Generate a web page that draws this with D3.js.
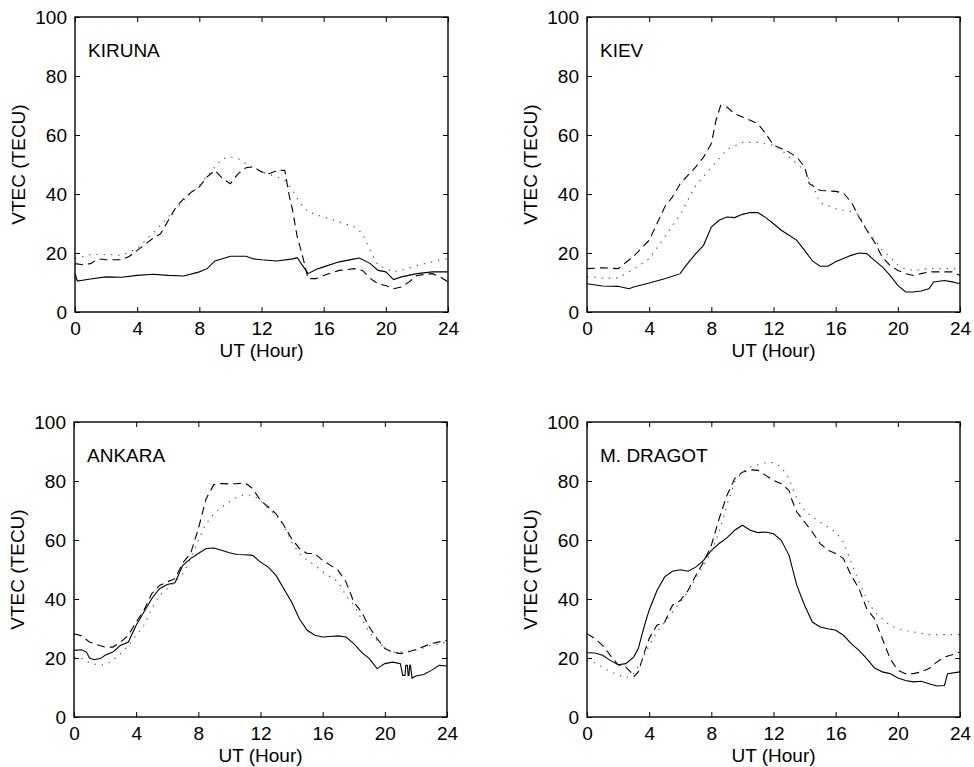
<!DOCTYPE html>
<html>
<head>
<meta charset="utf-8">
<script src="https://cdn.jsdelivr.net/npm/d3@7"></script>
<style>
  body { margin: 0; background: #fff; }
  svg { display: block; }
  text { font-family: "Liberation Sans", Arial, Helvetica, sans-serif; fill: #000; }
</style>
</head>
<body>
<div id="chart"></div>
<script>
// tick labels
var xTicks = [0, 4, 8, 12, 16, 20, 24];
var yTicks = [0, 20, 40, 60, 80, 100];
var stations = ["KIRUNA", "KIEV", "ANKARA", "M. DRAGOT"];

// [UT hour, VTEC]
var kirunaSolid = [[0,13],[0.15,10.5],[1,11.2],[2,11.9],[3,11.8],[4,12.4],[5,12.8],[6,12.4],[7,12.2],[8,13.6],[8.5,14.7],[9,17.3],[10,18.9],[11,18.9],[11.5,18],[12,17.7],[13,17.3],[14,18],[14.3,18.4],[14.7,15.3],[15,13],[15.5,14.4],[16,15.3],[17,17],[18,18],[18.3,18.3],[19,16.4],[19.5,14.1],[20,13.6],[20.5,11],[21,11.9],[22,13],[23,13.6],[24,13.6]];
var kirunaDashed = [[0,16.4],[0.5,16],[1,16.4],[1.5,18],[2,17.7],[3,17.7],[3.5,18.9],[4,20.9],[5,24.9],[5.5,26.5],[6,31],[6.5,35.6],[7,38.4],[7.5,40.7],[8,42.4],[8.5,45.8],[9,48],[9.5,45.2],[10,43.5],[10.5,46.9],[11,48.9],[11.5,49.2],[12,47.5],[12.5,46.9],[13,48],[13.5,48],[13.8,39],[14,34.5],[14.3,25.4],[14.6,19.8],[15,11.3],[15.5,11.3],[16,12.4],[17,14.1],[18,14.7],[18.5,14.1],[19,11.3],[19.5,9.6],[20,9],[20.5,7.9],[21,8.5],[21.5,10.2],[22,12.4],[23,13],[23.5,11.9],[24,10.2]];
var kirunaDotted = [[0,18.1],[1,19.5],[2,19.5],[3,19.2],[4,21.5],[5,26.6],[6,32.2],[7,37.9],[8,42.9],[9,49.2],[9.5,52],[10,52.5],[10.5,52],[11,50.3],[12,47.5],[13,45.8],[13.5,44.6],[14,41.2],[14.5,36.7],[15,33.9],[16,32.2],[17,30.5],[18,28.8],[18.5,26.6],[19,20.9],[19.5,15.8],[20,14.7],[20.5,13.6],[21,14.1],[22,15.8],[23,17],[24,18.1]];

var kievSolid = [[0,9.6],[1,8.8],[2,8.7],[2.7,7.9],[3,8.5],[4,9.8],[5,11.3],[6,13],[6.3,15.3],[7,19.8],[7.5,22.6],[8,28.8],[8.5,31.1],[9,32.2],[9.5,32],[10,33.1],[10.5,33.7],[11,33.7],[11.5,32],[12,29.9],[12.5,27.7],[13,26],[13.5,24.3],[14,20.9],[14.5,17.3],[15,15.5],[15.5,15.5],[16,17],[17,19.2],[17.5,20],[18,19.8],[18.5,17.5],[19,15.3],[19.5,12.4],[20,9],[20.5,6.8],[21,6.8],[21.5,7.1],[22,7.9],[22.3,10.2],[23,10.7],[23.5,10.2],[24,9.6]];
var kievDashed = [[0,14.7],[1,15],[2,14.7],[3,18.9],[4,24.3],[4.5,29.9],[5,35.6],[5.5,39],[6,43.5],[7,49.2],[7.5,52.5],[8,57.1],[8.3,65],[8.6,70],[9,69.5],[9.5,67.2],[10,66.1],[10.5,65],[11,63.8],[11.5,60.5],[12,56.5],[12.5,55.4],[13,54.2],[13.5,52.5],[14,49.2],[14.3,43.5],[15,41.2],[16,40.9],[16.5,40.3],[17,37.3],[17.5,32.2],[18,27.7],[18.5,23.7],[19,18.6],[19.5,15.8],[20,14.1],[20.5,13],[21,12.4],[21.5,13],[22,13.6],[23,13.6],[23.5,13.6],[24,12.4]];
var kievDotted = [[0,12],[1,11.5],[2,11.5],[3,14.5],[4,18],[5,25.5],[6,33],[7,43],[8,49],[9,55],[10,57.5],[11,57.5],[12,56.5],[12.5,55],[13,52.5],[14,48],[14.5,43],[15,37],[16,35],[17,34],[17.5,33],[18,28],[19,21],[20,16],[20.5,14.5],[21,14.1],[22,14.7],[23,14.7],[24,14.7]];

var ankaraSolid = [[0,22.6],[0.5,22.8],[0.8,22],[1,20],[1.3,19.4],[1.7,19.8],[2,20.9],[2.5,22],[3,24.3],[3.5,25.4],[4,31.1],[4.5,35.6],[5,40.1],[5.5,43.5],[6,44.9],[6.5,45.5],[7,51.4],[7.5,53.7],[8,55.4],[8.5,57.1],[9,57.3],[9.5,56.5],[10,55.7],[10.5,55.1],[11,55],[11.5,54.8],[12,52.5],[12.5,50.8],[13,48],[13.5,43.5],[14,39],[14.5,33.3],[15,29.4],[15.5,27.7],[16,27.1],[16.5,27.3],[17,27.5],[17.5,27.1],[18,24.9],[18.5,22],[19,19.8],[19.5,16.4],[20,18.1],[20.5,18.6],[21,18.1],[21.15,14.1],[21.3,14.1],[21.35,17.5],[21.45,17.5],[21.5,14.1],[21.55,14.1],[21.6,17.5],[21.65,17.5],[21.75,13.2],[22,13.9],[22.5,14.4],[23,15.8],[23.5,17.5],[24,17.3]];
var ankaraDashed = [[0,28.2],[0.5,27.5],[1,25.4],[1.5,24.5],[2,23.7],[2.5,23.7],[3,25.4],[3.5,27.7],[4,32.2],[4.5,36.2],[5,41.8],[5.5,44.6],[6,45.8],[6.5,46.9],[7,52.3],[7.5,55.4],[8,63.8],[8.5,74],[9,78.8],[9.5,79.1],[10,79],[10.5,79.1],[11,79.4],[11.5,77.4],[12,73.4],[12.5,71.2],[13,68.9],[13.5,65],[14,60.5],[14.5,57.1],[15,55.4],[15.5,55.4],[16,53.1],[16.5,51.4],[17,49.7],[17.5,45.8],[18,39],[18.5,35.6],[19,30.5],[19.5,26.6],[20,23.2],[20.5,22],[21,21.5],[21.5,22],[22,22.9],[23,24.9],[24,26]];
var ankaraDotted = [[0,20.3],[0.5,19.8],[1,18.4],[1.5,17.7],[2,17.7],[2.5,19.2],[3,21.5],[3.5,24.3],[4,27.7],[4.5,31.1],[5,36.7],[5.5,41.2],[6,43.5],[6.5,45.8],[7,48.6],[7.5,53.7],[8,59.9],[8.5,65.5],[9,68.9],[9.5,71.2],[10,72.9],[10.5,74.6],[11,75.4],[11.5,75.1],[12,73.4],[12.5,70.6],[13,68.4],[13.5,65],[14,59.3],[14.5,55.4],[15,53.1],[15.5,51.4],[16,49.2],[17,45.8],[17.5,41.2],[18,37.9],[18.5,33.3],[19,28.8],[19.5,26],[20,23.2],[20.5,22],[21,22],[22,22.6],[23,24.3],[24,25.4]];

var dragotSolid = [[0,21.8],[0.5,21.7],[1,20.9],[1.5,19.2],[2,17.7],[2.5,18.1],[3,20.3],[3.3,23.2],[3.7,31.1],[4,36.2],[4.5,42.9],[5,47.5],[5.5,49.4],[6,49.9],[6.5,49.4],[7,50.8],[7.5,53.1],[8,56.5],[8.5,58.8],[9,60.7],[9.5,63.3],[10,65],[10.5,63.3],[11,62.5],[11.5,62.7],[12,62.1],[12.5,59.9],[13,54.8],[13.5,44.6],[14,37.9],[14.5,32.2],[15,30.5],[15.5,29.9],[16,29.4],[16.5,27.7],[17,24.9],[17.5,22.6],[18,19.8],[18.5,16.6],[19,15.3],[19.5,14.7],[20,13.2],[20.5,12.4],[21,11.9],[21.5,12.1],[22,11.3],[22.5,10.5],[23,10.7],[23.2,14.7],[24,15.3]];
var dragotDashed = [[0,28.2],[0.5,26.6],[1,24.3],[1.5,20.9],[2,17.7],[2.5,16.9],[2.8,15.3],[3,13.6],[3.3,15.3],[3.7,22],[4,26.6],[4.5,31.1],[5,32.2],[5.5,37.9],[6,39.5],[6.5,42.9],[7,48],[7.5,52.5],[8,58.2],[8.5,67.2],[9,75.1],[9.5,80.8],[10,83],[10.5,83.8],[11,83.6],[11.5,81.9],[12,80.2],[12.5,79.1],[13,76.8],[13.2,73.4],[13.5,69.5],[14,66.1],[14.5,62.7],[15,58.8],[15.5,56.5],[16,55.4],[16.5,53.7],[17,48],[17.5,43.5],[18,36.7],[18.5,33.3],[19,26.6],[19.5,19.8],[20,15.8],[20.5,14.7],[21,14.7],[21.5,15.3],[22,16.4],[22.5,18.6],[23,20.3],[23.5,21.1],[24,22]];
var dragotDotted = [[0,19.2],[0.5,18.4],[1,16.9],[1.5,15.3],[2,14.4],[2.5,13.3],[3,14.7],[3.5,18.6],[4,24.3],[4.5,28.8],[5,32.2],[5.5,35.6],[6,39],[6.5,42.4],[7,46.9],[7.5,51.4],[8,55.9],[8.5,62.7],[9,71.8],[9.5,79.7],[10,83],[10.5,84.7],[11,85.5],[11.5,86.2],[12,86.2],[12.5,84.7],[13,80.8],[13.5,74],[14,70],[14.5,67.8],[15,66.1],[16,62.7],[16.5,59.3],[17,52.5],[17.5,45.8],[18,40.1],[18.5,35.6],[19,33.3],[19.5,31.1],[20,29.9],[21,28.8],[22,27.9],[23,27.9],[24,27.9]];

var W = 974, H = 767;
var svg = d3.select("#chart").append("svg").attr("width", W).attr("height", H);

// panel boxes (plot area)
var panels = [
  {name: stations[0], left: 75,  top: 17,  series: [kirunaSolid, kirunaDashed, kirunaDotted]},
  {name: stations[1], left: 587, top: 17,  series: [kievSolid, kievDashed, kievDotted]},
  {name: stations[2], left: 74,  top: 422, series: [ankaraSolid, ankaraDashed, ankaraDotted]},
  {name: stations[3], left: 587, top: 422, series: [dragotSolid, dragotDashed, dragotDotted]}
];
var pw = 373, ph = 295;
var styles = [
  {dash: null,    color: "#000", width: 1.1},
  {dash: "8,5",   color: "#000", width: 1.1},
  {dash: "1.3,6", color: "#555", width: 1.2}
];

panels.forEach(function(p) {
  var g = svg.append("g").attr("transform", "translate(" + p.left + "," + p.top + ")");

  var x = d3.scaleLinear().domain([0, 24]).range([0, pw]);
  var y = d3.scaleLinear().domain([0, 100]).range([ph, 0]);

  // axes, ticks pointing inward on all four sides
  var xb = g.append("g").attr("transform", "translate(0," + ph + ")")
    .call(d3.axisBottom(x).tickValues(xTicks).tickSizeInner(-5).tickSizeOuter(0).tickPadding(10));
  var xt = g.append("g")
    .call(d3.axisTop(x).tickValues(xTicks).tickSizeInner(-5).tickSizeOuter(0).tickFormat(""));
  var yl = g.append("g")
    .call(d3.axisLeft(y).tickValues(yTicks).tickSizeInner(-5).tickSizeOuter(0).tickPadding(8));
  var yr = g.append("g").attr("transform", "translate(" + pw + ",0)")
    .call(d3.axisRight(y).tickValues(yTicks).tickSizeInner(-5).tickSizeOuter(0).tickFormat(""));

  [xb, xt, yl, yr].forEach(function(a) {
    a.select(".domain").remove();
    a.selectAll("line").attr("stroke", "#000").attr("stroke-width", 1);
    a.selectAll("text").style("font-size", "19px").attr("fill", "#000");
  });

  // curves
  var line = d3.line()
    .x(function(d) { return x(d[0]); })
    .y(function(d) { return y(d[1]); });

  p.series.forEach(function(s, i) {
    g.append("path")
      .datum(s)
      .attr("d", line)
      .attr("fill", "none")
      .attr("stroke", styles[i].color)
      .attr("stroke-width", styles[i].width)
      .attr("stroke-dasharray", styles[i].dash);
  });

  // frame
  g.append("rect")
    .attr("width", pw).attr("height", ph)
    .attr("fill", "none").attr("stroke", "#000").attr("stroke-width", 1.4);

  // station name
  g.append("text")
    .attr("x", 13).attr("y", 40)
    .style("font-size", "19px")
    .text(p.name);

  // axis titles
  g.append("text")
    .attr("x", pw / 2).attr("y", ph + 45)
    .attr("text-anchor", "middle")
    .style("font-size", "19px")
    .text("UT (Hour)");
  g.append("text")
    .attr("transform", "translate(-50," + (ph / 2) + ") rotate(-90)")
    .attr("text-anchor", "middle")
    .style("font-size", "19px")
    .text("VTEC (TECU)");
});
</script>
</body>
</html>
